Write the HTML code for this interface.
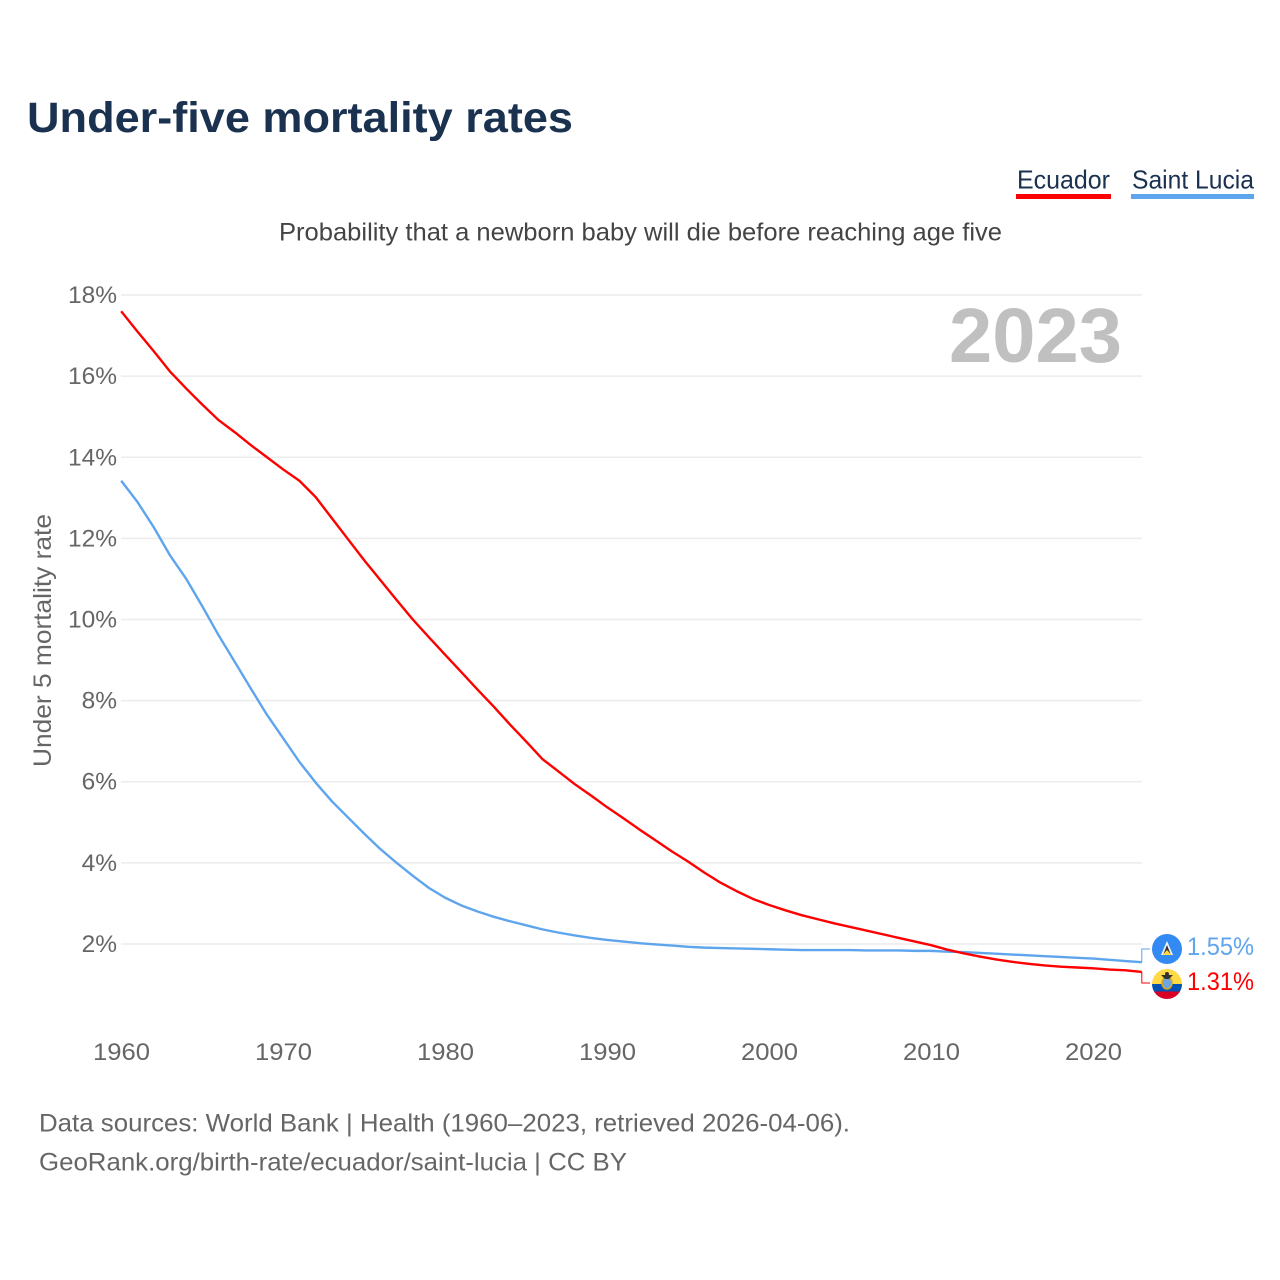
<!DOCTYPE html>
<html lang="en">
<head>
<meta charset="utf-8">
<title>Under-five mortality rates</title>
<style>
html,body{margin:0;padding:0;background:#fff;width:1280px;height:1280px;overflow:hidden}
svg{display:block;font-family:"Liberation Sans",sans-serif}
</style>
</head>
<body>
<svg id="chart" xmlns="http://www.w3.org/2000/svg" width="1280" height="1280" viewBox="0 0 1280 1280">
  <rect width="1280" height="1280" fill="#fff"/>
  <text x="27" y="132" font-size="43" font-weight="700" fill="#1a3150" textLength="546" lengthAdjust="spacingAndGlyphs">Under-five mortality rates</text>
  <text x="279" y="240.5" font-size="25" fill="#444" textLength="723" lengthAdjust="spacingAndGlyphs">Probability that a newborn baby will die before reaching age five</text>

  <g>
    <text x="1017" y="188.5" font-size="26" fill="#1a3150" textLength="93" lengthAdjust="spacingAndGlyphs">Ecuador</text>
    <rect x="1016" y="194" width="95" height="5" fill="#ff0000"/>
  </g>
  <g>
    <text x="1132" y="188.5" font-size="26" fill="#1a3150" textLength="122" lengthAdjust="spacingAndGlyphs">Saint Lucia</text>
    <rect x="1131" y="194" width="123" height="5" fill="#5ea5ee"/>
  </g>

  <g id="grid"></g>
  <g id="yticks"></g>
  <g id="xticks"></g>

  <text transform="translate(51,767) rotate(-90)" font-size="25" fill="#666" textLength="253" lengthAdjust="spacingAndGlyphs">Under 5 mortality rate</text>
  <text x="949" y="362" font-size="77" font-weight="700" fill="#c0c0c0" textLength="173" lengthAdjust="spacingAndGlyphs">2023</text>

  <g id="series"></g>

  <g>
    <circle cx="1167" cy="949" r="15" fill="#338af3"/>
    <polygon points="1167,941 1173,955 1161,955" fill="#f3f3f3"/>
    <polygon points="1167,945 1171,955 1163,955" fill="#333"/>
    <polygon points="1167,950 1171.5,955 1162.5,955" fill="#ffda44"/>
  </g>
  <g>
    <clipPath id="ec-clip"><circle cx="1167" cy="984" r="15"/></clipPath>
    <g clip-path="url(#ec-clip)">
      <rect x="1152" y="969" width="30" height="15" fill="#ffda44"/>
      <rect x="1152" y="984" width="30" height="7.5" fill="#0052b4"/>
      <rect x="1152" y="991.5" width="30" height="7.5" fill="#d80027"/>
    </g>
    <ellipse cx="1167" cy="983" rx="5" ry="6" fill="#6da6e0" stroke="#d9a520" stroke-width="1.5"/>
    <polygon points="1161,975 1173,975 1169,979 1165,979" fill="#333"/>
    <circle cx="1167" cy="974" r="2" fill="#333"/>
  </g>

  <text id="end-saint-lucia" x="1187" y="955" font-size="25" fill="#5ea5ee" textLength="67" lengthAdjust="spacingAndGlyphs"></text>
  <text id="end-ecuador" x="1187" y="990" font-size="25" fill="#ff0000" textLength="67" lengthAdjust="spacingAndGlyphs"></text>

  <text x="39" y="1131.5" font-size="25" fill="#666" textLength="811" lengthAdjust="spacingAndGlyphs">Data sources: World Bank | Health (1960–2023, retrieved 2026-04-06).</text>
  <text x="39" y="1170.5" font-size="25" fill="#666" textLength="588" lengthAdjust="spacingAndGlyphs">GeoRank.org/birth-rate/ecuador/saint-lucia | CC BY</text>
</svg>
<script>
const startYear = 1960;
const yTicks = [2, 4, 6, 8, 10, 12, 14, 16, 18];
const xTicks = [1960, 1970, 1980, 1990, 2000, 2010, 2020];
const ecuador = [17.6,17.1,16.62,16.12,15.7,15.3,14.92,14.62,14.3,14.0,13.7,13.42,13.02,12.5,11.98,11.46,10.97,10.48,10.0,9.56,9.13,8.7,8.27,7.85,7.41,6.99,6.56,6.25,5.94,5.66,5.37,5.1,4.82,4.55,4.28,4.03,3.76,3.51,3.3,3.11,2.96,2.83,2.71,2.61,2.51,2.42,2.33,2.24,2.15,2.06,1.97,1.86,1.77,1.69,1.62,1.56,1.51,1.47,1.44,1.42,1.4,1.37,1.35,1.31];
const saintLucia = [13.42,12.9,12.28,11.59,11.01,10.33,9.62,8.96,8.3,7.65,7.07,6.49,5.98,5.52,5.12,4.72,4.34,4.0,3.68,3.38,3.14,2.95,2.8,2.67,2.56,2.46,2.36,2.28,2.21,2.15,2.1,2.06,2.02,1.99,1.96,1.93,1.91,1.9,1.89,1.88,1.87,1.86,1.85,1.85,1.85,1.85,1.84,1.84,1.84,1.83,1.83,1.81,1.8,1.78,1.76,1.74,1.72,1.7,1.68,1.66,1.64,1.61,1.58,1.55];

const NS = 'http://www.w3.org/2000/svg';
const xScale = year => 121.2 + (year - 1960) * 16.2;
const yScale = value => 1025.1 - value * 40.56;

function make(tag, attrs, parent, text) {
  const el = document.createElementNS(NS, tag);
  for (const k in attrs) el.setAttribute(k, attrs[k]);
  if (text !== undefined) el.textContent = text;
  parent.appendChild(el);
  return el;
}

const grid = document.getElementById('grid');
const yGroup = document.getElementById('yticks');
const xGroup = document.getElementById('xticks');
const seriesGroup = document.getElementById('series');

yTicks.forEach(v => {
  const line = make('line', {x1: 121, x2: 1142, y1: yScale(v), y2: yScale(v), stroke: '#ececec', 'stroke-width': 1.5}, grid);
  
  
  const label = make('text', {x: 117, y: yScale(v) + 8, 'text-anchor': 'end', 'font-size': 24.5, fill: '#666'}, yGroup, v + '%');
  
  
});

xTicks.forEach(y => {
  const label = make('text', {x: xScale(y) + 0.3, y: 1060, 'text-anchor': 'middle', 'font-size': 24.5, fill: '#666', textLength: 57, lengthAdjust: 'spacingAndGlyphs'}, xGroup, String(y));
  
  
});

function drawSeries(values, color, labelY, name) {
  const pts = values.map((v, i) => [xScale(startYear + i), yScale(v)]);
  const d = pts.map((p, i) => (i ? 'L' : 'M') + p[0].toFixed(2) + ' ' + p[1].toFixed(2)).join(' ');
  const path = make('path', {d: d, fill: 'none', stroke: color, 'stroke-width': 2.4, 'stroke-linejoin': 'round'}, seriesGroup);
  
  
  const last = pts[pts.length - 1];
  const conn = make('path', {d: 'M' + last[0] + ' ' + last[1].toFixed(2) + ' L' + last[0] + ' ' + labelY + ' L1150 ' + labelY, fill: 'none', stroke: color, 'stroke-width': 1}, seriesGroup);
  
  
}

drawSeries(saintLucia, '#5ea5ee', 949, 'line-saint-lucia');
drawSeries(ecuador, '#ff0000', 983, 'line-ecuador');

document.getElementById('end-saint-lucia').textContent = saintLucia[saintLucia.length - 1].toFixed(2) + '%';
document.getElementById('end-ecuador').textContent = ecuador[ecuador.length - 1].toFixed(2) + '%';
</script>
</body>
</html>
